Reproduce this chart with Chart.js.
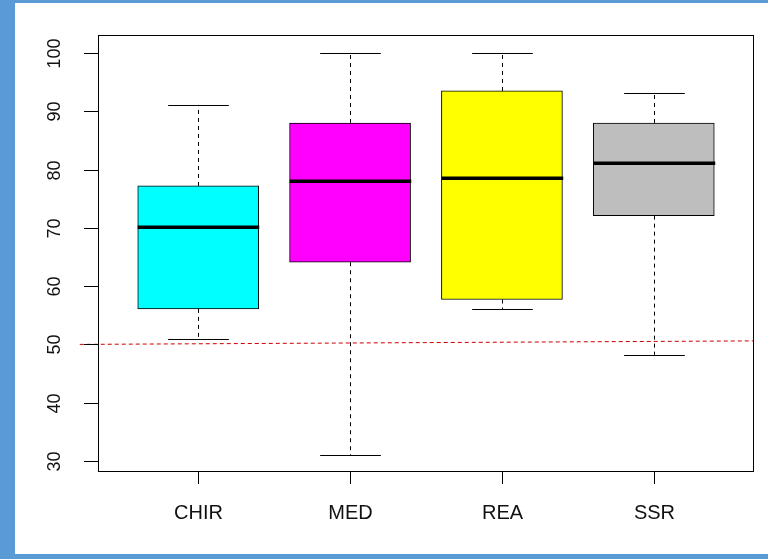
<!DOCTYPE html>
<html>
<head>
<meta charset="utf-8">
<script src="https://cdn.jsdelivr.net/npm/chart.js@4"></script>
<style>
  html, body { margin: 0; padding: 0; background: #fff; }
  canvas { display: block; }
</style>
</head>
<body>
<canvas id="grafico" width="768" height="559"></canvas>
<script>
const categories = ["CHIR", "MED", "REA", "SSR"];
const whiskerLow = [51, 31, 56, 48.2];
const q1 = [56.1, 64.1, 57.7, 72.1];
const median = [70.1, 78.0, 78.5, 81.1];
const q3 = [77.2, 88.0, 93.5, 88.0];
const whiskerHigh = [91.1, 100, 100, 93.1];
const boxColors = ["#00FFFF", "#FF00FF", "#FFFF00", "#BEBEBE"];
const yTicks = [30, 40, 50, 60, 70, 80, 90, 100];
// linha de referência tracejada (x em unidades de categoria)
const refX = [0.22, 4.66];
const refY = [50.0, 50.6];

// fundo com a moldura azul
const moldura = {
  id: "moldura",
  beforeDraw(chart) {
    const ctx = chart.ctx;
    ctx.save();
    ctx.fillStyle = "#5B9BD5";
    ctx.fillRect(0, 0, chart.width, chart.height);
    ctx.fillStyle = "#FFFFFF";
    ctx.fillRect(15, 3, chart.width - 15, chart.height - 8);
    ctx.restore();
  }
};

// bigodes, medianas, eixos e rótulos no estilo do R
const estiloR = {
  id: "estiloR",
  afterDatasetsDraw(chart) {
    const ctx = chart.ctx;
    const xs = chart.scales.x;
    const ys = chart.scales.y;
    const unit = xs.getPixelForValue(2) - xs.getPixelForValue(1);
    ctx.save();

    categories.forEach((cat, i) => {
      const cx = Math.round(xs.getPixelForValue(i + 1)) + 0.5;
      const half = unit * 0.4;
      const cap = unit * 0.2;
      // bigodes tracejados
      ctx.strokeStyle = "#000";
      ctx.lineWidth = 1;
      ctx.setLineDash([4, 4]);
      ctx.beginPath();
      ctx.moveTo(cx, ys.getPixelForValue(q3[i]));
      ctx.lineTo(cx, ys.getPixelForValue(whiskerHigh[i]));
      ctx.moveTo(cx, ys.getPixelForValue(q1[i]));
      ctx.lineTo(cx, ys.getPixelForValue(whiskerLow[i]));
      ctx.stroke();
      ctx.setLineDash([]);
      // extremos
      ctx.beginPath();
      let yh = Math.round(ys.getPixelForValue(whiskerHigh[i])) + 0.5;
      let yl = Math.round(ys.getPixelForValue(whiskerLow[i])) + 0.5;
      ctx.moveTo(cx - cap, yh); ctx.lineTo(cx + cap, yh);
      ctx.moveTo(cx - cap, yl); ctx.lineTo(cx + cap, yl);
      ctx.stroke();
      // mediana
      ctx.lineWidth = 3.5;
      ctx.beginPath();
      const ym = ys.getPixelForValue(median[i]);
      ctx.moveTo(cx - half, ym); ctx.lineTo(cx + half, ym);
      ctx.stroke();
    });
    ctx.restore();
  },
  afterDraw(chart) {
    const ctx = chart.ctx;
    const xs = chart.scales.x;
    const ys = chart.scales.y;
    const a = chart.chartArea;
    ctx.save();
    ctx.strokeStyle = "#000";
    ctx.lineWidth = 1;
    ctx.setLineDash([]);
    // caixa do gráfico
    ctx.strokeRect(Math.round(a.left) + 0.5, Math.round(a.top) + 0.5,
      Math.round(a.right - a.left) - 1, Math.round(a.bottom - a.top) - 1);

    ctx.fillStyle = "#111";
    // eixo x
    ctx.font = "20px 'Liberation Sans', Arial, sans-serif";
    ctx.textAlign = "center";
    ctx.textBaseline = "alphabetic";
    categories.forEach((cat, i) => {
      const x = Math.round(xs.getPixelForValue(i + 1)) + 0.5;
      ctx.beginPath();
      ctx.moveTo(x, a.bottom);
      ctx.lineTo(x, a.bottom + 12);
      ctx.stroke();
      ctx.fillText(cat, x, 519);
    });
    // eixo y com rótulos girados
    ctx.font = "18px 'Liberation Sans', Arial, sans-serif";
    yTicks.forEach(v => {
      const y = Math.round(ys.getPixelForValue(v)) + 0.5;
      ctx.beginPath();
      ctx.moveTo(a.left - 14, y);
      ctx.lineTo(a.left, y);
      ctx.stroke();
      ctx.save();
      ctx.translate(59.5, y);
      ctx.rotate(-Math.PI / 2);
      ctx.fillText(String(v), 0, 0);
      ctx.restore();
    });
    ctx.restore();
  }
};

new Chart(document.getElementById("grafico"), {
  data: {
    datasets: [
      {
        type: "bar",
        data: categories.map((c, i) => ({ x: i + 1, y: [q1[i], q3[i]] })),
        backgroundColor: boxColors,
        borderColor: "#000",
        borderWidth: 1,
        borderSkipped: false,
        grouped: false,
        barThickness: 121
      },
      {
        type: "line",
        data: refX.map((x, i) => ({ x: x, y: refY[i] })),
        borderColor: "#CC0000",
        borderWidth: 1,
        borderDash: [4, 3],
        pointRadius: 0,
        fill: false,
        clip: false
      }
    ]
  },
  options: {
    responsive: false,
    animation: false,
    devicePixelRatio: 1,
    layout: { padding: { left: 98, top: 35, right: 14, bottom: 87 } },
    plugins: { legend: { display: false }, tooltip: { enabled: false } },
    scales: {
      x: { type: "linear", min: 0.34, max: 4.66, offset: false, display: false },
      y: { type: "linear", min: 28.1, max: 103.1, display: false }
    }
  },
  plugins: [moldura, estiloR]
});
</script>
</body>
</html>
